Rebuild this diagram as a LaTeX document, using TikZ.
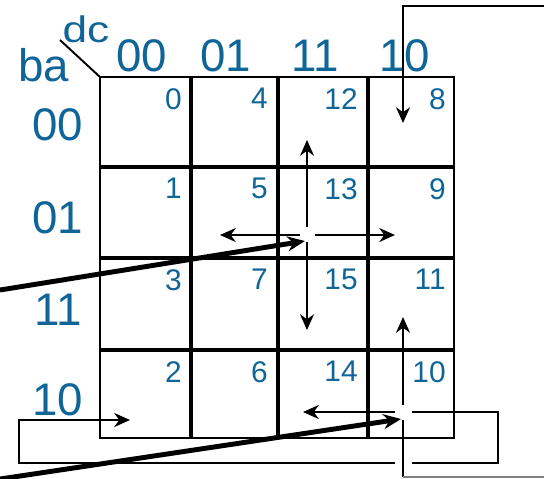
\documentclass[tikz,border=0pt]{standalone}
\usepackage{fontspec}
\setmainfont{Liberation Sans}
\usetikzlibrary{arrows.meta}
\definecolor{kmapblue}{RGB}{16,101,152}
\tikzset{
    lbl/.style={text=kmapblue, font=\fontsize{26}{26}\selectfont, inner sep=0pt, anchor=base},
    cellnum/.style={text=kmapblue, font=\fontsize{17}{17}\selectfont, inner sep=0pt, anchor=north east},
    thinarr/.style={-{Stealth[length=9pt,width=8pt]}, line width=1.1pt},
    thinline/.style={line width=1.1pt},
    jumparr/.style={-{Stealth[length=10pt,width=8.5pt]}, line width=2.8pt}
}
\begin{document}
\begin{tikzpicture}[x=0.02cm,y=-0.02cm]
    \useasboundingbox (0,0) rectangle (544,478);
    % corner of the map
    \draw[thinline] (60,40) -- (100,77);
    \node[lbl] (ba) at (44,81) {ba};
    \node[lbl, font=\fontsize{21}{21}\selectfont, xscale=1.2] (dc) at (86,42) {dc};
    % headings
    \foreach \lab/\x in {00/142, 01/226, 11/315, 10/405}
        \node[lbl] (col\lab) at (\x,71) {\lab};
    \foreach \lab/\y in {00/140, 01/233, 11/325, 10/415}
        \node[lbl] (row\lab) at (58,\y) {\lab};
    % grid
    \draw[line width=1.4pt] (100,77) rectangle (454,438);
    \foreach \x in {191,278,368}
        \draw[line width=2.3pt] (\x,77) -- (\x,438);
    \foreach \y in {167,258,350}
        \draw[line width=2.3pt] (100,\y) -- (454,\y);
    % cell numbers
    \foreach \yt/\a/\b/\c/\d in {77/0/4/12/8, 167/1/5/13/9, 258/3/7/15/11, 350/2/6/14/10} {
        \node[cellnum] (n\a) at (182,\yt+11) {\a};
        \node[cellnum] (n\b) at (268,\yt+11) {\b};
        \node[cellnum] (n\c) at (358,\yt+11) {\c};
        \node[cellnum] (n\d) at (446,\yt+11) {\d};
    }
    % neighbours of 13
    \coordinate (cross13) at (307,235);
    \draw[thinarr] (cross13) ++(0,-8) -- ++(0,-87);
    \draw[thinarr] (cross13) ++(-7,0) -- ++(-80,0);
    \draw[thinarr] (cross13) ++(8,0) -- ++(80,0);
    \draw[thinarr] (cross13) ++(0,7) -- ++(0,88);
    \coordinate (in13) at (0,290);
    \draw[jumparr] (in13) -- (305,241);
    % neighbours of 10 (wrapping round the map)
    \coordinate (cross10) at (403,412);
    \draw[thinarr] (cross10) ++(0,-7) -- ++(0,-88);
    \draw[thinarr] (cross10) ++(-8,0) -- ++(-92,0);
    \draw[thinline] (cross10) ++(9,0) -- (498,412) -- (498,463) -- (412,463);
    \draw[thinarr] (395,463) -- (19,463) -- (19,420) -- (130,420);
    \draw[thinline] (cross10) ++(0,8) -- (403,477);
    \draw[thinline, gray] (403,477) -- (544,477);
    \draw[thinarr] (544,6) -- (403,6) -- (403,123);
    \coordinate (in10) at (0,479);
    \draw[jumparr] (in10) -- (401,419);
\end{tikzpicture}
\end{document}
